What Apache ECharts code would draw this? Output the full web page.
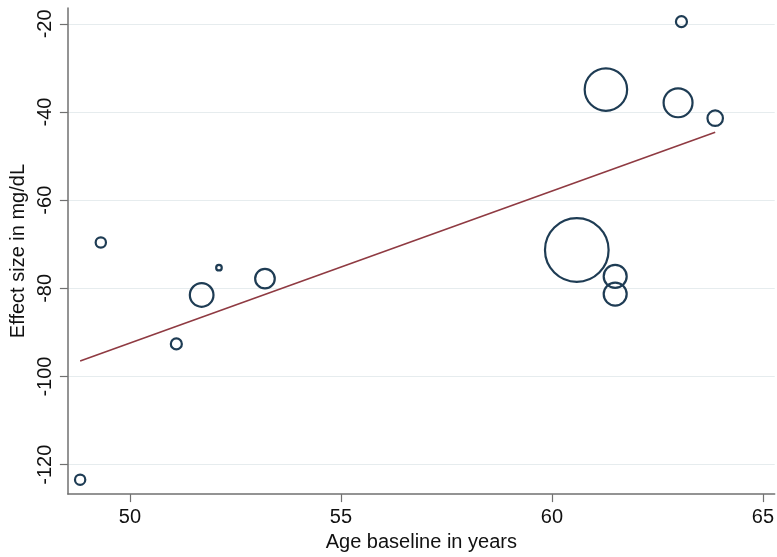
<!DOCTYPE html>
<html>
<head>
<meta charset="utf-8">
<script src="https://cdn.jsdelivr.net/npm/echarts@6/dist/echarts.min.js"></script>
<style>
  html, body { margin: 0; padding: 0; background: #fff; }
  #chart { width: 777px; height: 557px; }
</style>
</head>
<body>
<div id="chart"></div>
<script>
// Study-level data: mean baseline age, effect size and study weight
var ageBaseline = [48.82, 49.31, 51.10, 51.70, 52.11, 53.20, 60.59, 61.28, 61.50, 61.50, 62.99, 63.07, 63.87];
var effectSize  = [-123.4, -69.6, -92.6, -81.5, -75.3, -77.8, -71.3, -34.9, -77.3, -81.3, -37.9, -19.5, -41.4];
var studyWeight = [8, 8, 9, 38, 2.7, 26.5, 261, 118, 36, 36, 56, 9, 17];

// Fitted meta-regression line (endpoints over the observed age range)
var fitAge    = [48.82, 63.87];
var fitEffect = [-96.5, -44.6];

// Axis ticks
var xTicks = [50, 55, 60, 65];
var yTicks = [-120, -100, -80, -60, -40, -20];

var bubbles = ageBaseline.map(function (a, i) { return [a, effectSize[i], studyWeight[i]]; });
var fitLine = fitAge.map(function (a, i) { return [a, fitEffect[i]]; });

var font = '"Liberation Sans", Arial, sans-serif';
var chart = echarts.init(document.getElementById('chart'), null, { renderer: 'canvas' });

chart.setOption({
  animation: false,
  backgroundColor: '#ffffff',
  grid: { left: 67.7, right: 0, top: 8, bottom: 59.7, containLabel: false },
  xAxis: {
    type: 'value',
    min: 48.53,
    max: 65.28,
    name: 'Age baseline in years',
    nameLocation: 'middle',
    nameGap: 35.5,
    nameTextStyle: { fontFamily: font, fontSize: 20, color: '#111' },
    axisLine: { show: true, onZero: false, lineStyle: { color: '#707070', width: 1.5 } },
    axisTick: { show: true, length: 8, customValues: xTicks, lineStyle: { color: '#707070', width: 1.2 } },
    axisLabel: { customValues: xTicks, margin: 13, fontFamily: font, fontSize: 20, color: '#111' },
    splitLine: { show: false }
  },
  yAxis: {
    type: 'value',
    min: -126.67,
    max: -16.4,
    name: 'Effect size in mg/dL',
    nameLocation: 'middle',
    nameGap: 36.5,
    nameRotate: 90,
    nameTextStyle: { fontFamily: font, fontSize: 20, color: '#111' },
    axisLine: { show: true, onZero: false, lineStyle: { color: '#707070', width: 1.5 } },
    axisTick: { show: true, length: 8, customValues: yTicks, lineStyle: { color: '#707070', width: 1.2 } },
    axisLabel: { customValues: yTicks, rotate: 90, margin: 12, fontFamily: font, fontSize: 20, color: '#111' },
    splitLine: { show: true, lineStyle: { color: '#e6ecee', width: 1.2 } }
  },
  series: [
    {
      type: 'line',
      data: fitLine,
      showSymbol: false,
      symbol: 'none',
      lineStyle: { color: '#8f3a42', width: 1.6 },
      z: 3
    },
    {
      type: 'scatter',
      data: bubbles,
      symbol: 'circle',
      symbolSize: function (d) { return 4 * Math.sqrt(d[2]) - 1; },
      itemStyle: { color: 'rgba(255,255,255,0)', borderColor: '#1e3c54', borderWidth: 2.2, opacity: 1 },
      z: 4
    }
  ]
});
</script>
</body>
</html>
